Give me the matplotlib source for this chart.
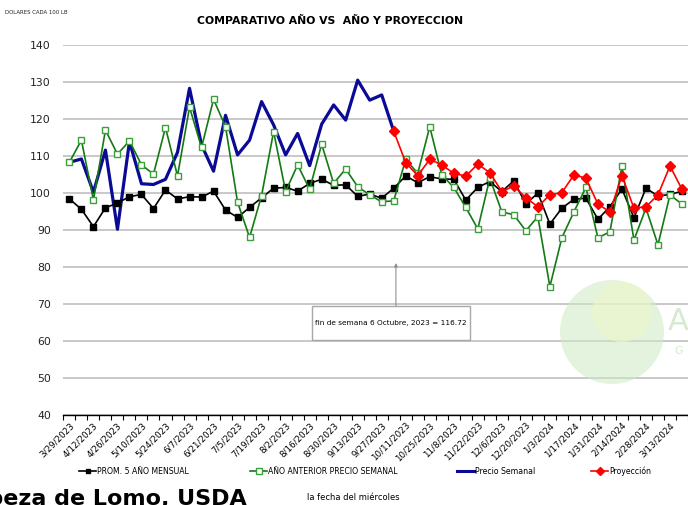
import matplotlib
matplotlib.use("Agg")
import matplotlib.pyplot as plt
from matplotlib.lines import Line2D
from matplotlib.patches import Ellipse, Rectangle
import numpy as np

# ---------------- data ----------------
tick_labels = ['3/29/2023', '4/12/2023', '4/26/2023', '5/10/2023', '5/24/2023', '6/7/2023',
               '6/21/2023', '7/5/2023', '7/19/2023', '8/2/2023', '8/16/2023', '8/30/2023',
               '9/13/2023', '9/27/2023', '10/11/2023', '10/25/2023', '11/8/2023', '11/22/2023',
               '12/6/2023', '12/20/2023', '1/3/2024', '1/17/2024', '1/31/2024', '2/14/2024',
               '2/28/2024', '3/13/2024']

prom5 = [98.4, 95.6, 90.9, 96.0, 97.3, 99.0, 99.6, 95.8, 100.8, 98.4,
         99.0, 98.9, 100.5, 95.4, 93.4, 96.1, 98.7, 101.3, 101.5, 100.5,
         102.6, 103.7, 102.1, 102.2, 99.1, 99.7, 98.6, 101.3, 104.6, 102.8,
         104.4, 103.8, 103.7, 98.1, 101.5, 103.1, 100.4, 103.3, 97.0, 100.0,
         91.6, 95.9, 98.3, 98.6, 92.9, 96.3, 101.1, 93.3, 101.3, 99.2,
         99.6, 100.5]

anterior = [108.3, 114.3, 98.1, 117.0, 110.5, 114.1, 107.6, 105.1, 117.7, 104.6,
            123.2, 112.3, 125.3, 117.9, 97.5, 88.0, 99.3, 116.6, 100.4, 107.6,
            101.0, 113.2, 102.6, 106.5, 101.7, 99.5, 97.6, 97.9, 109.1, 105.3,
            117.9, 104.9, 101.5, 96.1, 90.3, 104.0, 94.9, 94.1, 89.8, 93.6,
            74.7, 87.9, 94.9, 101.5, 87.9, 89.5, 107.3, 87.3, 95.9, 86.0,
            99.5, 97.0]

semanal = [108.3, 109.2, 100.2, 111.6, 90.2, 113.9, 102.5, 102.3, 103.7, 111.0,
           128.3, 113.0, 105.9, 121.0, 110.3, 114.3, 124.7, 118.4, 110.3, 116.1,
           107.4, 118.6, 123.8, 119.7, 130.5, 125.1, 126.5, 116.72]

proyeccion = [116.72, 108.2, 104.7, 109.1, 107.6, 105.3, 104.6, 107.8, 105.5, 100.4,
              101.9, 98.7, 96.3, 99.5, 100.1, 104.9, 104.0, 97.0, 94.9, 104.7,
              95.9, 96.3, 99.5, 107.3, 101.0]

annot_text = 'fin de semana 6 Octubre, 2023 = 116.72'

# ---------------- figure ----------------
plt.rcParams['font.family'] = ['DejaVu Sans']

W, H = 688, 505
fig = plt.figure(figsize=(W / 100, H / 100), dpi=100)
fig.patch.set_facecolor('white')

left_px, right_px, top_px, bot_px = 63.4, 688, 45, 415
ax = fig.add_axes([left_px / W, 1 - bot_px / H, (right_px - left_px) / W, (bot_px - top_px) / H])
ax.set_facecolor('none')

n = len(prom5)
x_all = np.arange(n)
x_sem = np.arange(len(semanal))
start_proj = len(semanal) - 1
x_proj = np.arange(start_proj, start_proj + len(proyeccion))

ax.plot(x_sem, semanal, color='#0a0a96', lw=2.3, zorder=3)
ax.plot(x_all, prom5, color='black', lw=1.2, marker='s', ms=3.8, mfc='black', mec='black', zorder=4)
ax.plot(x_all, anterior, color='#137a13', lw=1.2, marker='s', ms=4.2, mfc='white',
        mec='#3aa03a', mew=1.0, zorder=5)
ax.plot(x_proj, proyeccion, color='#ff0000', lw=1.2, marker='D', ms=5.5, mfc='#ff0000',
        mec='#ff0000', zorder=6)

ax.set_ylim(40, 140)
ax.set_xlim(-0.5, 50.82)
ax.set_yticks(np.arange(40, 141, 10))
ax.yaxis.grid(True, color='#c4c4c4', lw=1.3, zorder=0)
ax.set_axisbelow(True)
for s in ['top', 'right', 'left']:
    ax.spines[s].set_visible(False)
ax.spines['bottom'].set_color('black')
ax.spines['bottom'].set_linewidth(1.0)
ax.spines['bottom'].set_zorder(7)
ax.tick_params(axis='y', length=0, pad=9, labelsize=7.8, labelcolor='#222222')

# tick marks at category boundaries, labels every 2 weeks
ax.set_xticks(np.arange(-0.5, n + 0.5, 1.0))
ax.set_xticklabels([])
ax.tick_params(axis='x', which='major', direction='out', length=3.5, width=0.8, color='black')
ax.set_xticks(np.arange(0, 2 * len(tick_labels), 2), minor=True)
ax.set_xticklabels(tick_labels, minor=True, rotation=45, ha='right', va='top',
                   rotation_mode='anchor', fontsize=6.3)
ax.tick_params(axis='x', which='minor', length=0, pad=4)

# annotation box + arrow (pixel layout converted to data units)
def px2x(px):
    return (px - 69.5) / 12.17

def py2y(py):
    return 40 + (415 - py) / 3.7

box = Rectangle((px2x(315), py2y(340)), px2x(475) - px2x(315), py2y(306) - py2y(340),
                facecolor='white', edgecolor='#a8a8a8', lw=1.0, zorder=8)
ax.add_patch(box)
ax.text(px2x(395), py2y(323), annot_text, ha='center', va='center', fontsize=5.3, zorder=9)
ax.annotate('', xy=(px2x(400.3), py2y(263)), xytext=(px2x(400.3), py2y(306)),
            arrowprops=dict(arrowstyle='-|>', color='#909090', lw=0.8, mutation_scale=5,
                            shrinkA=0, shrinkB=0), zorder=8)

# watermark-like logo
logo = Ellipse((612 / W, 1 - 332 / H), 104 / W, 104 / H, transform=fig.transFigure,
               facecolor='#cfeac4', edgecolor='none', alpha=0.55, zorder=1)
fig.add_artist(logo)
logo2 = Ellipse((622 / W, 1 - 312 / H), 60 / W, 60 / H, transform=fig.transFigure,
                facecolor='#eef6c8', edgecolor='none', alpha=0.6, zorder=1)
fig.add_artist(logo2)
fig.text(668 / W, 1 - 330 / H, 'A', fontsize=22, color='#d7ead0', zorder=1)
fig.text(674 / W, 1 - 354 / H, 'G', fontsize=8, color='#d7ead0', zorder=1)

# titles/texts
fig.text(330 / W, 1 - 21 / H, 'COMPARATIVO AÑO VS  AÑO Y PROYECCION', ha='center', va='center',
         fontsize=7.8, fontweight='bold')
fig.text(5 / W, 1 - 13 / H, 'DOLARES CADA 100 LB', ha='left', va='center', fontsize=3.9,
         color='#222222')

# legend
handles = [
    Line2D([], [], color='black', lw=1.2, marker='s', ms=3.5, mfc='black'),
    Line2D([], [], color='#137a13', lw=1.2, marker='s', ms=3.8, mfc='white', mec='#3aa03a'),
    Line2D([], [], color='#0a0a96', lw=2.2),
    Line2D([], [], color='#ff0000', lw=1.2, marker='D', ms=4.5, mfc='#ff0000', mec='#ff0000'),
]
labels = ['PROM. 5 AÑO MENSUAL', 'AÑO ANTERIOR PRECIO SEMANAL', 'Precio Semanal', 'Proyección']
leg_x = [79, 250, 457, 591]
for h, lab, lx in zip(handles, labels, leg_x):
    fig.legend([h], [lab], loc='center left', bbox_to_anchor=(lx / W, 1 - 471 / H),
               frameon=False, handlelength=2.2, handletextpad=0.15, borderpad=0,
               borderaxespad=0, prop={'size': 5.6})

fig.text(247 / W, 1 - 499 / H, 'Cabeza de Lomo, USDA', ha='right', va='center', fontsize=16,
         fontweight='bold')
fig.text(307 / W, 1 - 497 / H, 'la fecha del miércoles', ha='left', va='center', fontsize=6.0)

fig.savefig('out.png', dpi=100)
